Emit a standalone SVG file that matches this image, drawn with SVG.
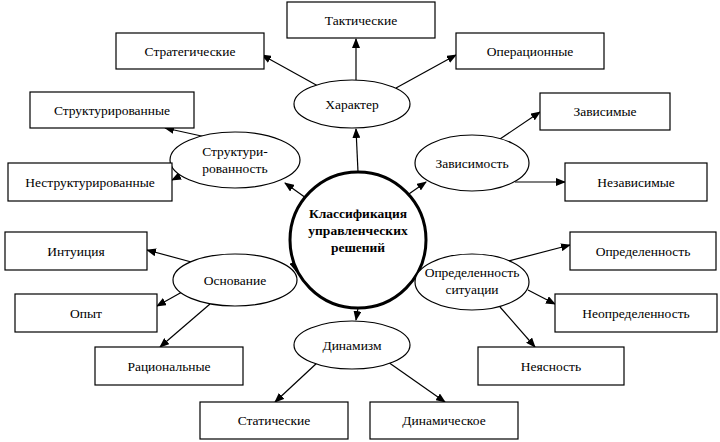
<svg xmlns="http://www.w3.org/2000/svg" width="720" height="442" viewBox="0 0 720 442" font-family="'Liberation Serif', 'Times New Roman', serif">
<defs>
<marker id="a" markerWidth="10" markerHeight="8" refX="9" refY="4" orient="auto" markerUnits="userSpaceOnUse"><path d="M0,0 L10,4 L0,8 Z" fill="#000"/></marker>
<style>
rect,ellipse,circle{fill:#fff;stroke:#000;stroke-width:1.2}
text{font-family:'Liberation Serif','Times New Roman',serif;font-size:13.5px;text-anchor:middle;fill:#000}
.c line{stroke:#000;stroke-width:1.2;marker-end:url(#a)}
</style>
</defs>
<rect width="720" height="442" fill="#fff" style="stroke:none"/>
<g class="c">
<line x1="358" y1="172" x2="356" y2="129"/>
<line x1="306" y1="198" x2="285" y2="183"/>
<line x1="406" y1="196" x2="426" y2="182"/>
<line x1="292" y1="258" x2="296" y2="271"/>
<line x1="414" y1="265" x2="418" y2="274"/>
<line x1="358" y1="308" x2="356" y2="320"/>
<line x1="318" y1="86" x2="262" y2="55"/>
<line x1="356" y1="80" x2="356" y2="39"/>
<line x1="396" y1="88" x2="456" y2="55"/>
<line x1="206" y1="137" x2="165" y2="128"/>
<line x1="180" y1="176" x2="172" y2="180"/>
<line x1="500" y1="139" x2="540" y2="112"/>
<line x1="515" y1="182" x2="565" y2="182"/>
<line x1="195" y1="263" x2="147" y2="250"/>
<line x1="182" y1="292" x2="157" y2="306"/>
<line x1="210" y1="304" x2="160" y2="347"/>
<line x1="505" y1="262" x2="570" y2="245"/>
<line x1="528" y1="290" x2="555" y2="304"/>
<line x1="500" y1="307" x2="535" y2="347"/>
<line x1="318" y1="362" x2="275" y2="402"/>
<line x1="388" y1="362" x2="445" y2="402"/>
</g>
<g id="center"><circle cx="358" cy="240" r="68" style="stroke-width:3"/>
<text x="358" y="218" font-weight="bold">Классификация</text><text x="358" y="235" font-weight="bold">управленческих</text><text x="358" y="252" font-weight="bold">решений</text></g>
<g id="e1"><ellipse cx="352" cy="104" rx="58" ry="24"/><text x="352" y="109">Характер</text></g>
<g id="e2"><ellipse cx="235" cy="160" rx="65" ry="28"/><text x="235" y="156">Структури-</text><text x="235" y="173">рованность</text></g>
<g id="e3"><ellipse cx="472" cy="163" rx="57" ry="28"/><text x="472" y="168">Зависимость</text></g>
<g id="e4"><ellipse cx="235" cy="280" rx="62" ry="26"/><text x="235" y="285">Основание</text></g>
<g id="e5"><ellipse cx="472" cy="282" rx="57" ry="28"/><text x="472" y="277">Определенность</text><text x="472" y="294">ситуации</text></g>
<g id="e6"><ellipse cx="352" cy="345" rx="58" ry="24"/><text x="352" y="350">Динамизм</text></g>
<g id="b1"><rect x="287" y="2" width="148" height="36"/><text x="361" y="25">Тактические</text></g>
<g id="b2"><rect x="116" y="33" width="148" height="36"/><text x="190" y="56">Стратегические</text></g>
<g id="b3"><rect x="456" y="33" width="148" height="36"/><text x="530" y="56">Операционные</text></g>
<g id="b4"><rect x="30" y="92" width="164" height="36"/><text x="112" y="115">Структурированные</text></g>
<g id="b5"><rect x="8" y="163" width="164" height="38"/><text x="90" y="187">Неструктурированные</text></g>
<g id="b6"><rect x="540" y="93" width="130" height="37"/><text x="605" y="116">Зависимые</text></g>
<g id="b7"><rect x="565" y="163" width="142" height="38"/><text x="636" y="187">Независимые</text></g>
<g id="b8"><rect x="5" y="232" width="142" height="38"/><text x="76" y="256">Интуиция</text></g>
<g id="b9"><rect x="15" y="294" width="142" height="38"/><text x="86" y="318">Опыт</text></g>
<g id="b10"><rect x="95" y="347" width="148" height="38"/><text x="169" y="371">Рациональные</text></g>
<g id="b11"><rect x="570" y="232" width="146" height="38"/><text x="643" y="256">Определенность</text></g>
<g id="b12"><rect x="555" y="294" width="162" height="38"/><text x="636" y="318">Неопределенность</text></g>
<g id="b13"><rect x="478" y="347" width="146" height="38"/><text x="551" y="371">Неясность</text></g>
<g id="b14"><rect x="200" y="402" width="148" height="37"/><text x="274" y="425">Статические</text></g>
<g id="b15"><rect x="370" y="402" width="148" height="37"/><text x="444" y="425">Динамическое</text></g>
</svg>
